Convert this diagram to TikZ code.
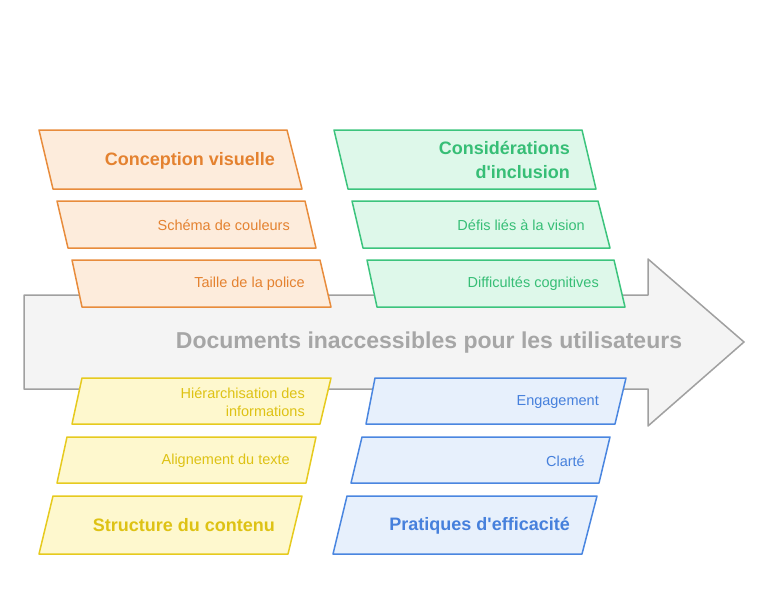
\documentclass[tikz,border=0pt]{standalone}
\usepackage{fontspec}
\setmainfont{Liberation Sans}
\definecolor{or_line}{RGB}{232, 140, 60}
\definecolor{or_fill}{RGB}{253, 236, 220}
\definecolor{or_text}{RGB}{228, 130, 48}
\definecolor{gr_line}{RGB}{60, 196, 125}
\definecolor{gr_fill}{RGB}{222, 248, 234}
\definecolor{gr_text}{RGB}{55, 190, 118}
\definecolor{ye_line}{RGB}{230, 202, 30}
\definecolor{ye_fill}{RGB}{254, 248, 206}
\definecolor{ye_text}{RGB}{222, 194, 20}
\definecolor{bl_line}{RGB}{74, 134, 224}
\definecolor{bl_fill}{RGB}{231, 240, 252}
\definecolor{bl_text}{RGB}{70, 128, 220}
\definecolor{ar_line}{RGB}{160, 160, 160}
\definecolor{ar_fill}{RGB}{244, 244, 244}
\definecolor{ar_text}{RGB}{166, 166, 166}
\tikzstyle{obox}=[draw=or_line,fill=or_fill,line width=1.5pt,line join=round]
\tikzstyle{gbox}=[draw=gr_line,fill=gr_fill,line width=1.5pt,line join=round]
\tikzstyle{ybox}=[draw=ye_line,fill=ye_fill,line width=1.5pt,line join=round]
\tikzstyle{bbox}=[draw=bl_line,fill=bl_fill,line width=1.5pt,line join=round]
\tikzstyle{head}=[anchor=east,inner sep=0pt,align=right,
  font=\fontsize{18}{24}\selectfont\bfseries]
\tikzstyle{item}=[anchor=east,inner sep=0pt,align=right,
  font=\fontsize{14.5}{18}\selectfont]

\begin{document}
\begin{tikzpicture}[x=1pt,y=-1pt]
    \useasboundingbox (0,0) rectangle (768,603);
    % main arrow
    \draw [draw=ar_line,fill=ar_fill,line width=1.5pt,line join=round]
      (24,295) -- (648,295) -- (648,259) -- (744,342) -- (648,426)
      -- (648,389) -- (24,389) -- cycle;
    \node [font=\fontsize{23}{26}\selectfont\bfseries,text=ar_text] (problem) at (429,343)
      {Documents inaccessibles pour les utilisateurs};
    % upper left
    \draw [style=obox] (39,130) -- (287,130) -- (302,189) -- (53,189) -- cycle;
    \draw [style=obox] (57,201) -- (305,201) -- (316,248) -- (68,248) -- cycle;
    \draw [style=obox] (72,260) -- (320,260) -- (331,307) -- (82,307) -- cycle;
    \node [style=head,text=or_text] (visuel) at (275,161) {Conception visuelle};
    \node [style=item,text=or_text] (couleurs) at (290,225) {Schéma de couleurs};
    \node [style=item,text=or_text] (police) at (305,284) {Taille de la police};
    % upper right
    \draw [style=gbox] (334,130) -- (582,130) -- (596,189) -- (348,189) -- cycle;
    \draw [style=gbox] (352,201) -- (598,201) -- (610,248) -- (363,248) -- cycle;
    \draw [style=gbox] (367,260) -- (614,260) -- (625,307) -- (377,307) -- cycle;
    \node [style=head,text=gr_text] (inclusion) at (570,160) {Considérations\\d\textquotesingle inclusion};
    \node [style=item,text=gr_text] (vision) at (585,225) {Défis liés à la vision};
    \node [style=item,text=gr_text] (cognitif) at (599,284) {Difficultés cognitives};
    % lower left
    \draw [style=ybox] (82,378) -- (331,378) -- (320,424) -- (72,424) -- cycle;
    \draw [style=ybox] (67,437) -- (316,437) -- (306,483) -- (57,483) -- cycle;
    \draw [style=ybox] (53,496) -- (302,496) -- (288,554) -- (39,554) -- cycle;
    \node [style=item,text=ye_text] (hierarchie) at (305,402) {Hiérarchisation des\\informations};
    \node [style=item,text=ye_text] (alignement) at (290,461) {Alignement du texte};
    \node [style=head,text=ye_text] (structure) at (275,525) {Structure du contenu};
    % lower right
    \draw [style=bbox] (375,378) -- (626,378) -- (615,424) -- (366,424) -- cycle;
    \draw [style=bbox] (362,437) -- (610,437) -- (599,483) -- (351,483) -- cycle;
    \draw [style=bbox] (347,496) -- (597,496) -- (582,554) -- (333,554) -- cycle;
    \node [style=item,text=bl_text] (engagement) at (599,402) {Engagement};
    \node [style=item,text=bl_text] (clarte) at (585,461) {Clarté};
    \node [style=head,text=bl_text] (pratiques) at (570,526) {Pratiques d\textquotesingle efficacité};
  \end{tikzpicture}
\end{document}
